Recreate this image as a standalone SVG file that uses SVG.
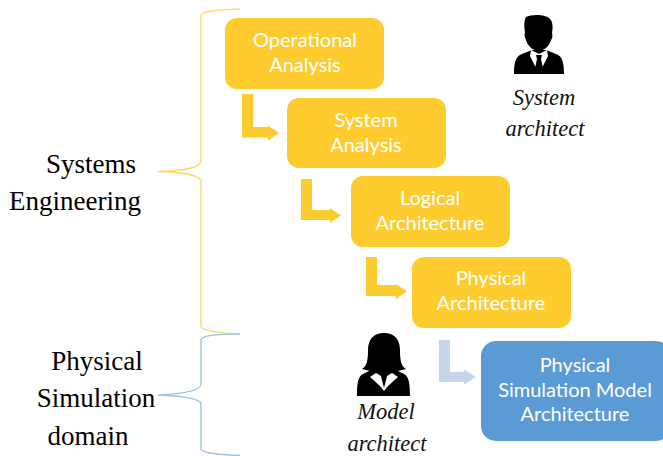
<svg xmlns="http://www.w3.org/2000/svg" width="663" height="456" viewBox="0 0 663 456">
<style>
.box{fill:#ffcc2f}
.blue{fill:#5b9bd5}
.lbl{font-family:"Lato","Open Sans",sans-serif;font-size:20px;fill:#fff;text-anchor:middle}
.ser{font-family:"Liberation Serif",serif;font-size:27px;fill:#000;text-anchor:middle}
.it{font-family:"Liberation Serif",serif;font-style:italic;font-size:22.5px;fill:#111;text-anchor:middle}
.brace{fill:none;stroke-width:1.4}
</style>
<g id="connectors">
<path class="box" d="M242 94h11v33h15v-1.500l11 7.500l-11 7.500v-3h-26z"/>
<path class="box" d="M301 179h11v31h18v-2l11 7.500l-11 7.500v-3h-29z"/>
<path class="box" d="M366 257h11v28h19v-1l11 7.500l-11 7.500v-3h-30z"/>
<path fill="#c5d5ea" d="M439 340h11v32h14v-2.500l12 7.500l-12 7.500v-2.500h-25z"/>
</g>
<g id="brace-systems-engineering"><path class="brace" stroke="#ffd966" d="M240 9C222 10 201 10 201 16V161C201 168 180 171 158 171.500C180 172 201 175 201 182V326C201 331 222 333 240 334"/></g>
<g id="brace-physical-simulation"><path class="brace" stroke="#9dc3e6" d="M240 334C222 334 201 335 201 340V384C201 391 180 394 158 395C180 396 201 398 201 404V449C201 453 222 455 240 455.500"/></g>
<g id="label-systems-engineering"><text class="ser" x="91" y="173">Systems</text><text class="ser" x="75" y="210">Engineering</text></g>
<g id="label-physical-simulation"><text class="ser" x="97" y="370">Physical</text><text class="ser" x="96" y="407">Simulation</text><text class="ser" x="88" y="445">domain</text></g>
<g id="operational-analysis"><rect class="box" x="225" y="18" width="159" height="71" rx="12"/><text class="lbl" x="305" y="47">Operational</text><text class="lbl" x="305" y="72">Analysis</text></g>
<g id="system-analysis"><rect class="box" x="287" y="98" width="159" height="70" rx="12"/><text class="lbl" x="366" y="127">System</text><text class="lbl" x="366" y="152">Analysis</text></g>
<g id="logical-architecture"><rect class="box" x="351" y="176" width="159" height="71" rx="12"/><text class="lbl" x="430" y="205">Logical</text><text class="lbl" x="430" y="230">Architecture</text></g>
<g id="physical-architecture"><rect class="box" x="412" y="257" width="159" height="71" rx="12"/><text class="lbl" x="491" y="285">Physical</text><text class="lbl" x="491" y="310">Architecture</text></g>
<g id="physical-simulation-model-architecture"><rect class="blue" x="481" y="341" width="190" height="100" rx="15"/><text class="lbl" x="575" y="372">Physical</text><text class="lbl" x="575" y="397">Simulation Model</text><text class="lbl" x="575" y="421">Architecture</text></g>
<g id="system-architect">
<path d="M526 17C531 14 546 14 550 19C553 22 553 28 552 33C553 36 552 39 551 40C549 47 543 51 539 51C534 51 528 47 526 40C525 38 524 35 525 32C524 27 524 20 526 17Z"/>
<path d="M532 50L522 54C516 56 514 62 514 74H564C564 62 562 56 556 54L546 50Z"/>
<path fill="#fff" d="M531 50L539 54L547 50L548 56L542 68H536L530 56Z"/>
<path d="M536 55H542L541 59L543 68L539 74L535 68L537 59Z"/>
<text class="it" x="544" y="105">System</text><text class="it" x="545" y="136">architect</text>
</g>
<g id="model-architect">
<path d="M384 333C373 333 368 340 368 350C368 360 367 366 362 369L374 372H394L406 369C401 366 400 360 400 350C400 340 395 333 384 333Z"/>
<path d="M375 368L365 373C359 375 357 380 357 396H410C410 380 408 375 402 373L392 368Z"/>
<path fill="#fff" d="M376 373L381 376L384 388L387 376L392 373L398 377L388 386L384 391L380 386L370 377Z"/>
<text class="it" x="386" y="419">Model</text><text class="it" x="387" y="451">architect</text>
</g>
</svg>
